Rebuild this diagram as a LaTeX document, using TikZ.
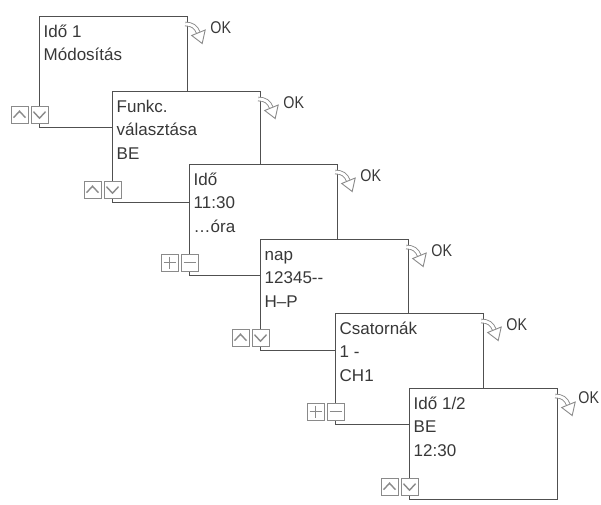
\documentclass[tikz,border=0pt]{standalone}
\usepackage{fontspec}
\setmainfont{Liberation Sans}
\newfontfamily\okfont[FakeStretch=0.84]{Liberation Sans}
\usetikzlibrary{positioning,calc}
\definecolor{framecol}{HTML}{505050}
\definecolor{keycol}{HTML}{8A8A8A}
\definecolor{inkcol}{HTML}{383838}
\newcommand{\firstline}{\rule{0pt}{14pt}}

\tikzset{
  screen/.style={draw=framecol, fill=white, line width=1.2pt, anchor=north west,
    minimum width=148pt, minimum height=111pt, inner sep=0pt},
  menutext/.style={anchor=north west, align=left, inner sep=0pt, text=inkcol,
    font=\fontsize{17}{23.5}\selectfont},
  oktext/.style={anchor=base west, inner sep=0pt, text=inkcol, font=\okfont\fontsize{17}{20}\selectfont},
  key/.style={draw=keycol, fill=white, line width=1pt, minimum size=17pt, inner sep=0pt},
  keyup/.style={key, path picture={
    \draw[keycol, line width=1.4pt] ([shift={(-6,3)}]path picture bounding box.center)
      -- ([shift={(0,-3.5)}]path picture bounding box.center)
      -- ([shift={(6,3)}]path picture bounding box.center);}},
  keydown/.style={key, path picture={
    \draw[keycol, line width=1.4pt] ([shift={(-6,-3)}]path picture bounding box.center)
      -- ([shift={(0,3.5)}]path picture bounding box.center)
      -- ([shift={(6,-3)}]path picture bounding box.center);}},
  keyplus/.style={key, path picture={
    \draw[keycol, line width=1.4pt] ([shift={(-6,0)}]path picture bounding box.center)
      -- ([shift={(6,0)}]path picture bounding box.center);
    \draw[keycol, line width=1.4pt] ([shift={(0,-6)}]path picture bounding box.center)
      -- ([shift={(0,6)}]path picture bounding box.center);}},
  keyminus/.style={key, path picture={
    \draw[keycol, line width=1.4pt] ([shift={(-6,0)}]path picture bounding box.center)
      -- ([shift={(6,0)}]path picture bounding box.center);}},
  okarrow/.pic={
    \draw[keycol, line width=0.9pt, double=white, double distance=2.8pt]
      (-3,8) .. controls (4,8) and (8,11) .. (10,16.5);
    \draw[keycol, line width=0.9pt, fill=white, line join=miter]
      (3.5,19.5) -- (17,14) -- (14,27.5) -- cycle;
  }
}

\begin{document}
\begin{tikzpicture}[x=1pt, y=-1pt]
    \useasboundingbox (0,0) rectangle (601,504);

    % Ido 1
    \node[screen] (s1) at (39,16) {};
    \node[menutext] (t1) at ([shift={(4.5,7)}]s1.north west) {\firstline Idő 1\\Módosítás};
    \node[keydown] (d1) at ([shift={(0.5,-13.5)}]s1.south west) {};
    \node[keyup, left=2pt of d1] (u1) {};
    \pic at (s1.north east) {okarrow};
    \node[oktext] (ok1) at ([shift={(22,17)}]s1.north east) {OK};

    % funkcio
    \node[screen] (s2) at (112,91) {};
    \node[menutext] (t2) at ([shift={(4.5,7)}]s2.north west) {\firstline Funkc.\\választása\\BE};
    \node[keydown] (d2) at ([shift={(0.5,-13.5)}]s2.south west) {};
    \node[keyup, left=2pt of d2] (u2) {};
    \pic at (s2.north east) {okarrow};
    \node[oktext] (ok2) at ([shift={(22,17)}]s2.north east) {OK};

    % ido
    \node[screen] (s3) at (189,164) {};
    \node[menutext] (t3) at ([shift={(4.5,7)}]s3.north west) {\firstline Idő\\11:30\\…óra};
    \node[keyminus] (d3) at ([shift={(0.5,-13.5)}]s3.south west) {};
    \node[keyplus, left=2pt of d3] (u3) {};
    \pic at (s3.north east) {okarrow};
    \node[oktext] (ok3) at ([shift={(22,17)}]s3.north east) {OK};

    % nap
    \node[screen] (s4) at (260,239) {};
    \node[menutext] (t4) at ([shift={(4.5,7)}]s4.north west) {\firstline nap\\12345-{}-\\H–P};
    \node[keydown] (d4) at ([shift={(0.5,-13.5)}]s4.south west) {};
    \node[keyup, left=2pt of d4] (u4) {};
    \pic at (s4.north east) {okarrow};
    \node[oktext] (ok4) at ([shift={(22,17)}]s4.north east) {OK};

    % csatornak
    \node[screen] (s5) at (335,313) {};
    \node[menutext] (t5) at ([shift={(4.5,7)}]s5.north west) {\firstline Csatornák\\1 -\\CH1};
    \node[keyminus] (d5) at ([shift={(0.5,-13.5)}]s5.south west) {};
    \node[keyplus, left=2pt of d5] (u5) {};
    \pic at (s5.north east) {okarrow};
    \node[oktext] (ok5) at ([shift={(22,17)}]s5.north east) {OK};

    % Ido 1/2
    \node[screen] (s6) at (409,388) {};
    \node[menutext] (t6) at ([shift={(4.5,7)}]s6.north west) {\firstline Idő 1/2\\BE\\12:30};
    \node[keydown] (d6) at ([shift={(0.5,-13.5)}]s6.south west) {};
    \node[keyup, left=2pt of d6] (u6) {};
    \pic at (s6.north east) {okarrow};
    \node[oktext] (ok6) at ([shift={(20,15)}]s6.north east) {OK};
\end{tikzpicture}
\end{document}
